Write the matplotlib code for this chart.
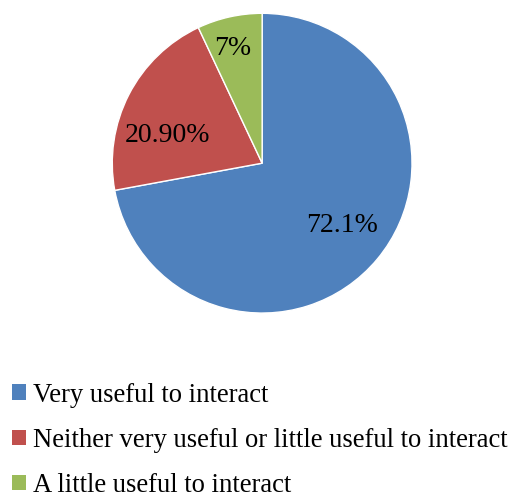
import numpy as np
import matplotlib.pyplot as plt
from matplotlib.patches import Patch

categories = ["Very useful to interact",
              "Neither very useful or little useful to interact",
              "A little useful to interact"]
values = [72.1, 20.9, 7.0]
pct_labels = ["72.1%", "20.90%", "7%"]
colors = ["#4F81BD", "#C0504D", "#9BBB59"]

plt.rcParams['font.family'] = ['Liberation Serif', 'DejaVu Serif']

fig = plt.figure(figsize=(5.11, 4.93), dpi=100)
ax = fig.add_axes([0.513 - 0.2935, 0.669 - 0.304, 0.587, 0.608])

wedges = ax.pie(values, colors=colors, startangle=90, counterclock=False,
                wedgeprops=dict(edgecolor="white", linewidth=1))[0]
# label placement: radius fraction and angle nudge per wedge
lab_r = [0.675, 0.66, 0.79]
lab_da = [2.0, 10.8, 2.0]
for w, txt, r, da in zip(wedges, pct_labels, lab_r, lab_da):
    a = np.deg2rad((w.theta1 + w.theta2) / 2 + da)
    ax.text(r * np.cos(a), r * np.sin(a), txt, ha="center", va="center",
            fontsize=20)
ax.set_xlim(-1, 1)
ax.set_ylim(-1, 1)
ax.set_aspect("equal")

handles = [Patch(facecolor=c, edgecolor="none") for c in colors]
fig.legend(handles, categories, loc="upper left", bbox_to_anchor=(0.0235, 0.224),
           frameon=False, fontsize=19.2, handlelength=0.52, handleheight=0.52,
           handletextpad=0.28, labelspacing=0.76, borderpad=0, borderaxespad=0)

fig.savefig("out.png", dpi=100)
